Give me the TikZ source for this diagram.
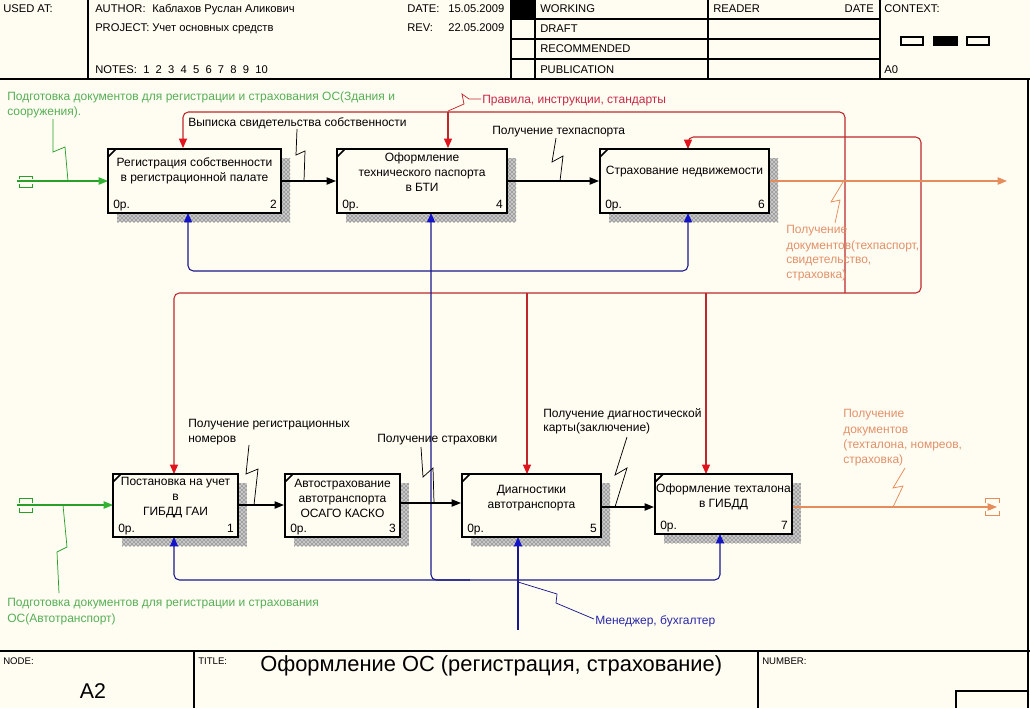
\documentclass[tikz,border=0pt]{standalone}
\usepackage{fontspec}
\setmainfont{Liberation Sans}
\usetikzlibrary{arrows.meta,patterns,fit}
\definecolor{bg}{RGB}{255,252,242}
\definecolor{redline}{RGB}{190,40,45}
\definecolor{redtip}{RGB}{225,20,30}
\definecolor{redtxt}{RGB}{200,40,70}
\definecolor{blueline}{RGB}{25,25,140}
\definecolor{bluetip}{RGB}{20,20,200}
\definecolor{bluetxt}{RGB}{40,40,170}
\definecolor{greenline}{RGB}{40,160,40}
\definecolor{greentip}{RGB}{50,180,50}
\definecolor{greentxt}{RGB}{85,175,85}
\definecolor{orline}{RGB}{230,140,90}
\definecolor{ortxt}{RGB}{225,145,105}
\tikzset{
  btip/.tip={Triangle[length=7pt,width=5.5pt,color=black]},
  rtip/.tip={Triangle[length=7pt,width=6pt,color=redtip]},
  ltip/.tip={Triangle[length=7pt,width=6pt,color=bluetip]},
  gtip/.tip={Triangle[length=7pt,width=5.5pt,color=greentip]},
  otip/.tip={Triangle[length=7pt,width=5.5pt,color=orline]},
}
\newcommand\procshadow[4]{%
  \fill[black!22] (#1+9,#2+9) rectangle (#3+9,#4+9);
  \path[pattern=crosshatch dots, pattern color=black!85] (#1+9,#2+9) rectangle (#3+9,#4+9);
}
\newcommand\procbox[8]{%
  \coordinate (#1-a) at (#2,#3); \coordinate (#1-b) at (#4,#5);
  \node[proc, fit=(#1-a)(#1-b)] (#1) {};
  \node[align=center] (#1-t) at ({(#2+#4)/2},#8) {#6};
  \node[anchor=base west] (#1-o) at (#2+5,#5-5) {0р.};
  \node[anchor=base east] (#1-n) at (#4-4,#5-5) {#7};
  \draw[line width=1.3pt] (#2,#3+8) -- (#2+8,#3);
}
\begin{document}
\begin{tikzpicture}[x=0.75pt,y=-0.75pt,
  every node/.style={inner sep=0pt, font=\fontsize{9}{11.25}\selectfont},
  hdr/.style={anchor=base west, font=\fontsize{8.4}{10}\selectfont},
  ftr/.style={anchor=base west, font=\fontsize{7.2}{8}\selectfont},
  lbl/.style={anchor=base west},
  frame/.style={line width=0.9pt, draw=black},
  proc/.style={draw=black, line width=1.6pt, fill=bg, inner sep=0pt},
  flow/.style={draw=black, line width=0.8pt, -btip},
  ctrl/.style={draw=redline, line width=0.8pt, rounded corners=4pt},
  mech/.style={draw=blueline, line width=0.8pt, rounded corners=4pt},
  inp/.style={draw=greenline, line width=0.8pt, -gtip},
  outp/.style={draw=orline, line width=0.8pt, -otip},
  sq/.style={line width=0.55pt},
]
\useasboundingbox (0,0) rectangle (1030,708);
\fill[bg] (0,0) rectangle (1030,708);

% ---------- header ----------
\draw[frame] (88,0) -- (88,79);
\draw[frame] (511,0) -- (511,79);
\draw[frame] (535,0) -- (535,79);
\draw[frame] (708,0) -- (708,79);
\draw[frame] (880,0) -- (880,79);
\draw[frame] (511,19) -- (880,19);
\draw[frame] (511,39) -- (880,39);
\draw[frame] (511,59) -- (880,59);
\fill (511,0) rectangle (535,19);
\draw[line width=1.4pt] (0,79) -- (1030,79);
\draw[line width=0.8pt] (901,37) rectangle (923,45);
\filldraw[line width=0.8pt] (934,37) rectangle (957,45);
\draw[line width=0.8pt] (967,37) rectangle (989,45);
\node[hdr] (h1) at (3,12) {USED AT:};
\node[hdr] (h2) at (95,12) {AUTHOR:};
\node[hdr] (h3) at (152,12) {Каблахов Руслан Аликович};
\node[hdr] (h4) at (95,31) {PROJECT:};
\node[hdr] (h5) at (152,31) {Учет основных средств};
\node[hdr] (h6) at (95,73) {NOTES:};
\node[hdr] (h7) at (143,73) {1\ \ 2\ \ 3\ \ 4\ \ 5\ \ 6\ \ 7\ \ 8\ \ 9\ \ 10};
\node[hdr] (h8) at (407,12) {DATE:};
\node[hdr] (h9) at (448,12) {15.05.2009};
\node[hdr] (h10) at (407,31) {REV:};
\node[hdr] (h11) at (448,31) {22.05.2009};
\node[hdr] (h12) at (540,12) {WORKING};
\node[hdr] (h13) at (540,32) {DRAFT};
\node[hdr] (h14) at (540,52) {RECOMMENDED};
\node[hdr] (h15) at (540,73) {PUBLICATION};
\node[hdr] (h16) at (713,12) {READER};
\node[hdr, anchor=base east] (h17) at (874,12) {DATE};
\node[hdr] (h18) at (884,12) {CONTEXT:};
\node[hdr] (h19) at (884,73) {A0};

% ---------- footer ----------
\draw[line width=1.4pt] (0,651) -- (1030,651);
\draw[frame] (194,651) -- (194,708);
\draw[frame] (758,651) -- (758,708);
\draw[frame] (956,708) -- (956,691) -- (1028,691);
\draw[frame] (1028,79) -- (1028,708);
\node[ftr] (f1) at (3,664) {NODE:};
\node[ftr] (f2) at (198,664) {TITLE:};
\node[ftr] (f3) at (762,664) {NUMBER:};
\node[anchor=base, font=\fontsize{16}{18}\selectfont] (f4) at (93,698) {A2};
\node[anchor=base west, font=\fontsize{16.4}{18}\selectfont] (f5) at (260,671) {Оформление ОС (регистрация, страхование)};

% ---------- shadows ----------
\procshadow{108}{149}{281}{213}
\procshadow{337}{149}{507}{213}
\procshadow{600}{149}{769}{213}
\procshadow{113}{474}{238}{537}
\procshadow{285}{474}{400}{537}
\procshadow{462}{474}{601}{537}
\procshadow{655}{474}{792}{534}

% ---------- controls (red) ----------
\draw[ctrl, -rtip] (845,293) -- (845,112) -- (183,112) -- (183,148);
\draw[ctrl, -rtip] (448,112) -- (448,148);
\draw[ctrl, rtip-rtip] (174,474) -- (174,293) -- (921,293) -- (921,137) -- (688,137) -- (688,149);
\draw[ctrl, -rtip] (527,293) -- (527,474);
\draw[ctrl, -rtip] (706,293) -- (706,474);
\node[lbl, text=redtxt] (lr) at (482,103) {Правила, инструкции, стандарты};
\draw[sq, redline] (481,99) -- (469,99) -- (462,94) -- (464,104) -- (448,111);

% ---------- mechanisms (blue) ----------
\draw[mech, ltip-ltip] (188,213) -- (188,271) -- (688,271) -- (688,213);
\draw[mech, -ltip] (470,580) -- (431,580) -- (431,213);
\draw[mech, ltip-ltip] (174,537) -- (174,580) -- (720,580) -- (720,534);
\draw[mech, -ltip] (518,630) -- (518,537);
\node[lbl, text=bluetxt] (lb) at (595,624) {Менеджер, бухгалтер};
\draw[sq, blueline] (594,619) -- (556,603) -- (557,594) -- (518,582);

% ---------- inputs (green) ----------
\draw[greenline, line width=0.7pt] (19,179) -- (19,176) -- (32,176) -- (32,179) (19,184) -- (19,187) -- (32,187) -- (32,184);
\draw[inp] (17,181) -- (108,181);
\node[lbl, text=greentxt] (lg1) at (7,100) {Подготовка документов для регистрации и страхования ОС(Здания и};
\node[lbl, text=greentxt] (lg2) at (7,115) {сооружения).};
\draw[sq, greenline] (53,119) -- (53,152) -- (65,147) -- (68,181);
\draw[greenline, line width=0.7pt] (19,503) -- (19,498) -- (32,498) -- (32,503) (19,508) -- (19,512) -- (32,512) -- (32,508);
\draw[inp] (17,505) -- (113,505);
\node[lbl, text=greentxt] (lg3) at (7,606) {Подготовка документов для регистрации и страхования};
\node[lbl, text=greentxt] (lg4) at (7,622) {ОС(Автотранспорт)};
\draw[sq, greenline] (59,593) -- (57,552) -- (67,547) -- (63,505);

% ---------- outputs (orange) ----------
\draw[outp] (769,181) -- (1007,181);
\node[lbl, text=ortxt] (lo1) at (786,233) {Получение};
\node[lbl, text=ortxt] (lo2) at (786,249) {документов(техпаспорт,};
\node[lbl, text=ortxt] (lo3) at (786,263) {свидетельство,};
\node[lbl, text=ortxt] (lo4) at (786,278) {страховка)};
\draw[sq, orline] (843,182) -- (831,202) -- (840,200) -- (835,223);
\draw[orline, line width=0.7pt] (985,503) -- (985,498) -- (999,498) -- (999,503) (985,511) -- (985,515) -- (999,515) -- (999,511);
\draw[outp] (792,507) -- (997,507);
\node[lbl, text=ortxt] (lo5) at (843,417) {Получение};
\node[lbl, text=ortxt] (lo6) at (843,433) {документов};
\node[lbl, text=ortxt] (lo7) at (843,448) {(техталона, номреов,};
\node[lbl, text=ortxt] (lo8) at (843,463) {страховка)};
\draw[sq, orline] (905,468) -- (893,488) -- (903,486) -- (893,507);

% ---------- boxes ----------
\procbox{b2}{108}{149}{281}{213}{Регистрация собственности\\в регистрационной палате}{2}{171}
\procbox{b4}{337}{149}{507}{213}{Оформление\\технического паспорта\\в БТИ}{4}{172}
\procbox{b6}{600}{149}{769}{213}{Страхование недвижемости}{6}{172}
\procbox{b1}{113}{474}{238}{537}{Постановка на учет\\в\\ГИБДД ГАИ}{1}{498}
\procbox{b3}{285}{474}{400}{537}{Автострахование\\автотранспорта\\ОСАГО КАСКО}{3}{498}
\procbox{b5}{462}{474}{601}{537}{Диагностики\\автотранспорта}{5}{498}
\procbox{b7}{655}{474}{792}{534}{Оформление техталона\\в ГИБДД}{7}{497}

% ---------- flows (black) ----------
\draw[flow] (b2.east) -- (b4.west);
\draw[flow] (b4.east) -- (b6.west);
\draw[flow] (b1.east |- 0,505) -- (b3.west |- 0,505);
\draw[flow] (b3.east |- 0,503) -- (b5.west |- 0,503);
\draw[flow] (b5.east |- 0,507) -- (b7.west |- 0,507);
\node[lbl] (l1) at (188,126) {Выписка свидетельства собственности};
\draw[sq] (297,129) -- (296,155) -- (305,151) -- (304,181);
\node[lbl] (l2) at (492,134) {Получение техпаспорта};
\draw[sq] (556,138) -- (552,162) -- (563,156) -- (560,181);
\node[lbl] (l3) at (188,427) {Получение регистрационных};
\node[lbl] (l3b) at (188,442) {номеров};
\draw[sq] (249,445) -- (246,474) -- (258,469) -- (254,505);
\node[lbl] (l4) at (377,442) {Получение страховки};
\draw[sq] (421,447) -- (423,477) -- (433,468) -- (434,503);
\node[lbl] (l5) at (543,417) {Получение диагностической};
\node[lbl] (l5b) at (543,431) {карты(заключение)};
\draw[sq] (627,437) -- (615,475) -- (627,468) -- (615,507);
\end{tikzpicture}
\end{document}
